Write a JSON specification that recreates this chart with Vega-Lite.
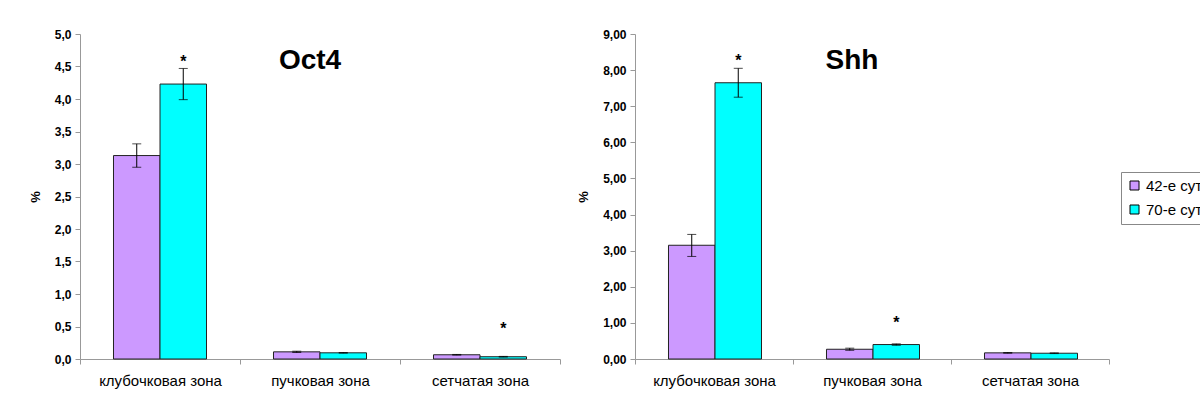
{
  "$schema": "https://vega.github.io/schema/vega-lite/v6.json",
  "padding": {"left": 29, "top": 28, "right": -20, "bottom": 5},
  "spacing": 16,
  "config": {
    "font": "Liberation Sans",
    "view": {"stroke": null},
    "axis": {"grid": false, "domainColor": "#999", "tickColor": "#999", "labelColor": "#000", "titleColor": "#000"},
    "locale": {"number": {"decimal": ",", "thousands": " ", "grouping": [3], "currency": ["", ""]}}
  },
  "datasets": {
    "oct4": [
      {"zone": "клубочковая зона", "group": "42-е сутки", "value": 3.13, "lo": 2.95, "hi": 3.31},
      {"zone": "клубочковая зона", "group": "70-е сутки", "value": 4.23, "lo": 3.99, "hi": 4.47},
      {"zone": "пучковая зона", "group": "42-е сутки", "value": 0.11, "lo": 0.10, "hi": 0.12},
      {"zone": "пучковая зона", "group": "70-е сутки", "value": 0.095, "lo": 0.09, "hi": 0.10},
      {"zone": "сетчатая зона", "group": "42-е сутки", "value": 0.065, "lo": 0.06, "hi": 0.07},
      {"zone": "сетчатая зона", "group": "70-е сутки", "value": 0.035, "lo": 0.03, "hi": 0.04}
    ],
    "shh": [
      {"zone": "клубочковая зона", "group": "42-е сутки", "value": 3.15, "lo": 2.84, "hi": 3.45},
      {"zone": "клубочковая зона", "group": "70-е сутки", "value": 7.65, "lo": 7.25, "hi": 8.05},
      {"zone": "пучковая зона", "group": "42-е сутки", "value": 0.27, "lo": 0.24, "hi": 0.30},
      {"zone": "пучковая зона", "group": "70-е сутки", "value": 0.40, "lo": 0.38, "hi": 0.42},
      {"zone": "сетчатая зона", "group": "42-е сутки", "value": 0.17, "lo": 0.16, "hi": 0.18},
      {"zone": "сетчатая зона", "group": "70-е сутки", "value": 0.16, "lo": 0.15, "hi": 0.17}
    ],
    "oct4_stars": [
      {"zone": "клубочковая зона", "group": "70-е сутки", "value": 4.635, "mark": "*"},
      {"zone": "сетчатая зона", "group": "70-е сутки", "value": 0.52, "mark": "*"}
    ],
    "shh_stars": [
      {"zone": "клубочковая зона", "group": "70-е сутки", "value": 8.35, "mark": "*"},
      {"zone": "пучковая зона", "group": "70-е сутки", "value": 1.10, "mark": "*"}
    ],
    "oct4_title": [{"zone": "пучковая зона", "value": 4.46, "label": "Oct4"}],
    "shh_title": [{"zone": "пучковая зона", "value": 8.03, "label": "Shh"}]
  },
  "resolve": {"legend": {"color": "independent"}},
  "hconcat": [
    {
      "width": 480,
      "height": 325,
      "data": {"name": "oct4"},
      "encoding": {
        "x": {"field": "zone", "type": "nominal", "sort": ["клубочковая зона", "пучковая зона", "сетчатая зона"],
          "scale": {"paddingInner": 0, "paddingOuter": 0},
          "axis": {"title": null, "labelAngle": 0, "labelFontSize": 15, "tickBand": "extent", "tickSize": 5, "labelPadding": 9}},
        "y": {"field": "value", "type": "quantitative", "scale": {"domain": [0, 5], "nice": false},
          "axis": {"title": "%", "titleFontSize": 13, "titleFontWeight": "bold", "titlePadding": 12, "labelFontSize": 12, "labelFontWeight": "bold", "values": [0, 0.5, 1, 1.5, 2, 2.5, 3, 3.5, 4, 4.5, 5], "format": ".1f", "tickSize": 5, "labelPadding": 4}}
      },
      "layer": [
        {"mark": {"type": "bar", "stroke": "#222", "strokeWidth": 1},
         "encoding": {
           "xOffset": {"field": "group", "type": "nominal", "sort": ["42-е сутки", "70-е сутки"], "scale": {"paddingInner": 0, "paddingOuter": 0.72}},
           "color": {"field": "group", "type": "nominal", "scale": {"domain": ["42-е сутки", "70-е сутки"], "range": ["#CC99FF", "#00FFFF"]}, "legend": null}}},
        {"mark": {"type": "rule", "color": "#000", "strokeWidth": 1},
         "encoding": {
           "xOffset": {"field": "group", "type": "nominal", "sort": ["42-е сутки", "70-е сутки"]},
           "y": {"field": "lo", "type": "quantitative"}, "y2": {"field": "hi"}}},
        {"mark": {"type": "tick", "color": "#000", "thickness": 1, "size": 9},
         "encoding": {
           "xOffset": {"field": "group", "type": "nominal", "sort": ["42-е сутки", "70-е сутки"]},
           "y": {"field": "lo", "type": "quantitative"}}},
        {"mark": {"type": "tick", "color": "#000", "thickness": 1, "size": 9},
         "encoding": {
           "xOffset": {"field": "group", "type": "nominal", "sort": ["42-е сутки", "70-е сутки"]},
           "y": {"field": "hi", "type": "quantitative"}}},
        {"data": {"name": "oct4_stars"},
         "mark": {"type": "text", "fontSize": 16, "fontWeight": "bold", "color": "#000", "baseline": "middle", "dy": 4},
         "encoding": {
           "xOffset": {"field": "group", "type": "nominal", "sort": ["42-е сутки", "70-е сутки"]},
           "text": {"field": "mark"}}},
        {"data": {"name": "oct4_title"},
         "mark": {"type": "text", "fontSize": 28, "fontWeight": "bold", "color": "#000", "baseline": "alphabetic", "align": "center", "dx": -10},
         "encoding": {"text": {"field": "label"}}}
      ]
    },
    {
      "width": 474,
      "height": 325,
      "data": {"name": "shh"},
      "encoding": {
        "x": {"field": "zone", "type": "nominal", "sort": ["клубочковая зона", "пучковая зона", "сетчатая зона"],
          "scale": {"paddingInner": 0, "paddingOuter": 0},
          "axis": {"title": null, "labelAngle": 0, "labelFontSize": 15, "tickBand": "extent", "tickSize": 5, "labelPadding": 9}},
        "y": {"field": "value", "type": "quantitative", "scale": {"domain": [0, 9], "nice": false},
          "axis": {"title": "%", "titleFontSize": 13, "titleFontWeight": "bold", "titlePadding": 12, "labelFontSize": 12, "labelFontWeight": "bold", "values": [0, 1, 2, 3, 4, 5, 6, 7, 8, 9], "format": ".2f", "tickSize": 5, "labelPadding": 4}}
      },
      "layer": [
        {"mark": {"type": "bar", "stroke": "#222", "strokeWidth": 1},
         "encoding": {
           "xOffset": {"field": "group", "type": "nominal", "sort": ["42-е сутки", "70-е сутки"], "scale": {"paddingInner": 0, "paddingOuter": 0.72}},
           "color": {"field": "group", "type": "nominal", "scale": {"domain": ["42-е сутки", "70-е сутки"], "range": ["#CC99FF", "#00FFFF"]},
             "legend": {"title": null, "orient": "none", "legendX": 486, "legendY": 138, "strokeColor": "#888", "padding": 6, "symbolType": "square", "symbolSize": 81, "symbolStrokeColor": "#000", "symbolStrokeWidth": 1, "labelFontSize": 15, "rowPadding": 8, "labelOffset": 4, "fillColor": "white", "labelColor": "#000"}}}},
        {"mark": {"type": "rule", "color": "#000", "strokeWidth": 1},
         "encoding": {
           "xOffset": {"field": "group", "type": "nominal", "sort": ["42-е сутки", "70-е сутки"]},
           "y": {"field": "lo", "type": "quantitative"}, "y2": {"field": "hi"}}},
        {"mark": {"type": "tick", "color": "#000", "thickness": 1, "size": 9},
         "encoding": {
           "xOffset": {"field": "group", "type": "nominal", "sort": ["42-е сутки", "70-е сутки"]},
           "y": {"field": "lo", "type": "quantitative"}}},
        {"mark": {"type": "tick", "color": "#000", "thickness": 1, "size": 9},
         "encoding": {
           "xOffset": {"field": "group", "type": "nominal", "sort": ["42-е сутки", "70-е сутки"]},
           "y": {"field": "hi", "type": "quantitative"}}},
        {"data": {"name": "shh_stars"},
         "mark": {"type": "text", "fontSize": 16, "fontWeight": "bold", "color": "#000", "baseline": "middle", "dy": 4},
         "encoding": {
           "xOffset": {"field": "group", "type": "nominal", "sort": ["42-е сутки", "70-е сутки"]},
           "text": {"field": "mark"}}},
        {"data": {"name": "shh_title"},
         "mark": {"type": "text", "fontSize": 28, "fontWeight": "bold", "color": "#000", "baseline": "alphabetic", "align": "center", "dx": -20},
         "encoding": {"text": {"field": "label"}}}
      ]
    }
  ]
}
